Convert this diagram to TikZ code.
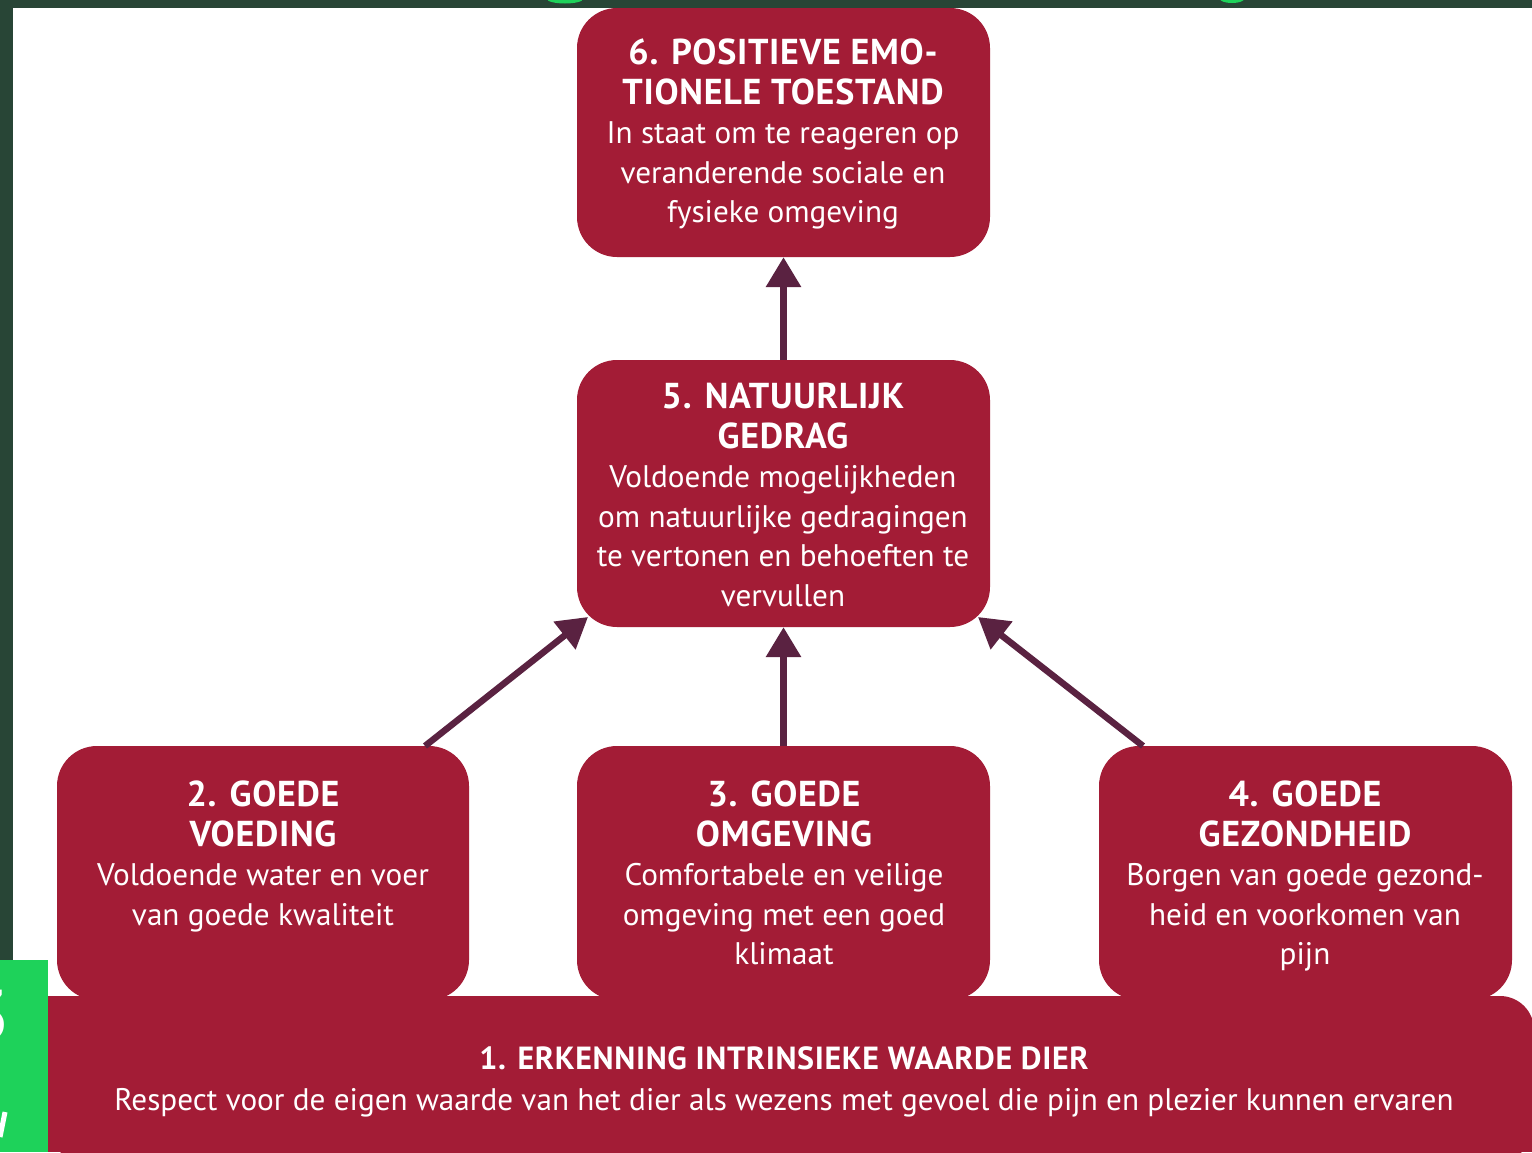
\documentclass[tikz,border=0pt]{standalone}
\usepackage{fontspec}
\setmainfont{PT Sans}
\usetikzlibrary{arrows.meta,calc}
\definecolor{boxred}{HTML}{A31C36}
\definecolor{arrowpurple}{HTML}{5A2241}
\definecolor{darkgreen}{HTML}{284536}
\definecolor{brightgreen}{HTML}{1ED25A}
\tikzset{
  box/.style={fill=boxred, draw=none, rounded corners=40pt, inner sep=0pt},
  boxtext/.style={text=white, align=center, inner sep=0pt, anchor=north, font=\fontsize{31.2}{39.5}\selectfont},
  conn/.style={draw=arrowpurple, line width=6.5pt, -{Triangle[width=34pt,length=30pt]}},
}
\newcommand{\ttl}[1]{{\fontsize{36}{39.5}\selectfont\bfseries\addfontfeatures{LetterSpace=2}#1}}
\newcommand{\ttlsmall}[1]{{\fontsize{32}{41}\selectfont\bfseries\addfontfeatures{LetterSpace=2}#1}}
\begin{document}
\begin{tikzpicture}[x=1pt,y=-1pt]
\useasboundingbox (0,0) rectangle (1532,1152);
\fill[white] (0,0) rectangle (1532,1152);
% frame
\fill[darkgreen] (0,0) rectangle (1532,8);
\fill[darkgreen] (0,0) rectangle (13,960);
\begin{scope}
\clip (0,0) rectangle (1532,8);
\fill[brightgreen] (565,-1) ellipse [x radius=18pt, y radius=4.5pt];
\fill[brightgreen] (1232,-1) ellipse [x radius=12pt, y radius=4pt];
\end{scope}
% boxes
\node[box, minimum width=413pt, minimum height=249pt] (b6) at (783.5,132.5) {};
\node[box, minimum width=413pt, minimum height=267pt] (b5) at (783.5,493.5) {};
\path[fill=boxred, rounded corners=34pt] (48,1160) -- (48,996) -- (1534,996) -- (1534,1160) -- cycle;
\fill[boxred] (48,996) rectangle (120,1152);
\fill[boxred] (1400,1040) rectangle (1534,1152);
\node[box, minimum width=412pt, minimum height=254pt] (b2) at (263,873) {};
\node[box, minimum width=413pt, minimum height=254pt] (b3) at (783.5,873) {};
\node[box, minimum width=413pt, minimum height=254pt] (b4) at (1305.5,873) {};
% green tab
\fill[brightgreen] (0,960) rectangle (48,1152);
\begin{scope}
\clip (0,960) rectangle (48,1152);
\node[text=white, anchor=east, inner sep=0pt, font=\fontsize{72}{72}\selectfont\bfseries] (g3) at (10,1016) {3};
\draw[white, line width=5pt] (0,1137) -- (5,1112);
\end{scope}
% texts
\node[boxtext] (t6) at (783,39) {\ttl{6. POSITIEVE EMO-}\\\ttl{TIONELE TOESTAND}\\In staat om te reageren op\\veranderende sociale en\\fysieke omgeving};
\node[boxtext] (t5) at (783,383) {\ttl{5. NATUURLIJK}\\\ttl{GEDRAG}\\Voldoende mogelijkheden\\om natuurlijke gedragingen\\te vertonen en behoeften te\\vervullen};
\node[boxtext] (t2) at (263,781) {\ttl{2. GOEDE}\\\ttl{VOEDING}\\Voldoende water en voer\\van goede kwaliteit};
\node[boxtext] (t3) at (784,781) {\ttl{3. GOEDE}\\\ttl{OMGEVING}\\Comfortabele en veilige\\omgeving met een goed\\klimaat};
\node[boxtext] (t4) at (1305,781) {\ttl{4. GOEDE}\\\ttl{GEZONDHEID}\\Borgen van goede gezond-\\heid en voorkomen van\\pijn};
\node[boxtext, font=\fontsize{31.2}{41}\selectfont] (t1) at (784,1046) {\ttlsmall{1. ERKENNING INTRINSIEKE WAARDE DIER}\\Respect voor de eigen waarde van het dier als wezens met gevoel die pijn en plezier kunnen ervaren};
% connectors
\coordinate (s2) at (425,746);
\coordinate (e2) at (588,617);
\coordinate (s4) at (1143,746);
\coordinate (e4) at (978,617);
\draw[conn] (b5.north) -- (b6.south);
\draw[conn] (b3.north) -- (b5.south);
\draw[conn] (s2) -- (e2);
\draw[conn] (s4) -- (e4);
\end{tikzpicture}
\end{document}
